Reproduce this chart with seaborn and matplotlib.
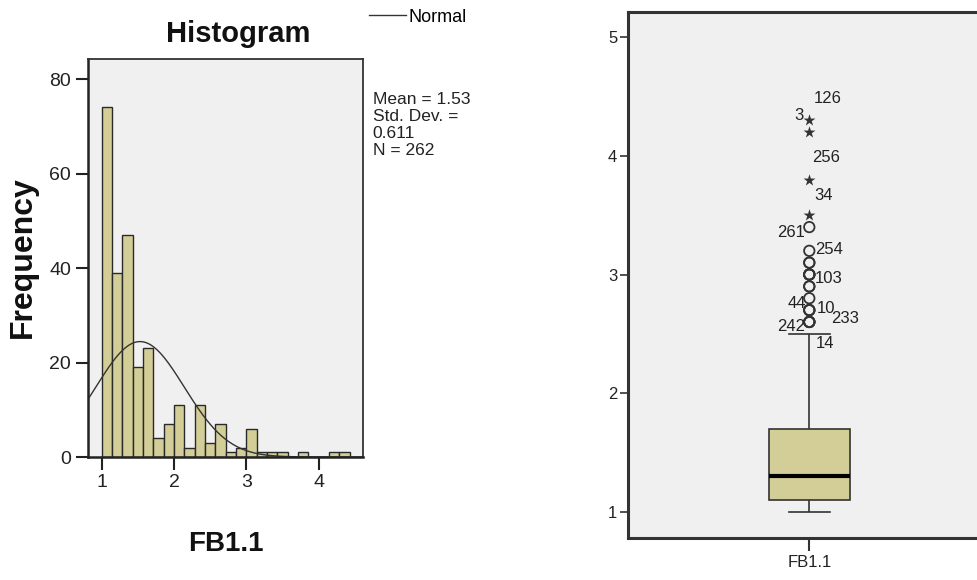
import numpy as np
import pandas as pd
import seaborn as sns
import matplotlib.pyplot as plt

# FB1.1 - observerade värden och antal fall per värde (N = 262)
fb_values = [1.0, 1.1, 1.2, 1.3, 1.4, 1.5, 1.6, 1.7, 1.8, 1.9, 2.0, 2.1, 2.2, 2.3,
             2.4, 2.5, 2.6, 2.7, 2.8, 2.9, 3.0, 3.1, 3.2, 3.4, 3.5, 3.8, 4.2, 4.3]
fb_counts = [31, 43, 39, 28, 19, 19, 12, 11, 4, 7, 6, 5, 2, 6,
             5, 3, 4, 3, 1, 2, 4, 2, 1, 1, 1, 1, 1, 1]

# statistik som SPSS skriver ut bredvid histogrammet
mean_fb = 1.53
sd_fb = 0.611

# fallnummer för extremvärden i boxplotten
case_ids = [126, 3, 256, 34, 261, 254, 103, 44, 10, 233, 242, 14]
case_vals = [4.3, 4.3, 4.2, 3.8, 3.4, 3.2, 3.0, 2.8, 2.7, 2.6, 2.6, 2.6]
# etikettplacering (px) relativt punkten: dx, dy, justering
label_dx = [4, -6, 3, 5, -4, 6, 5, -3, 7, 22, -4, 6]
label_dy = [22, 5, -25, -16, -5, 1, -4, -5, 2, 3, -5, -22]
label_ha = ['left', 'right', 'left', 'left', 'right', 'left', 'left', 'right',
            'left', 'left', 'right', 'left']

TAN = '#D3CE97'
DARK = '#333333'
BG = '#F0F0F0'

df = pd.DataFrame({'var': 'FB1.1', 'val': np.repeat(fb_values, fb_counts)})
n_cases = len(df)

fig = plt.figure(figsize=(9.77, 5.8), dpi=100)

# ---------- histogram ----------
ax1 = fig.add_axes([87.7 / 977, 1 - 457 / 580, (363.3 - 87.7) / 977, (457 - 59.3) / 580])
ax1.set_facecolor(BG)

bin_w = 1 / 7
edges = 1 + np.arange(25) / 7
sns.histplot(data=df, x='val', bins=edges, color=TAN, edgecolor='#2a2a2a',
             linewidth=1.0, alpha=1, ax=ax1)

x_lo, x_hi = 0.806, 4.618
xs = np.linspace(x_lo, x_hi, 300)
ys = n_cases * bin_w * np.exp(-0.5 * ((xs - mean_fb) / sd_fb) ** 2) / (sd_fb * np.sqrt(2 * np.pi))
sns.lineplot(x=xs, y=ys, color=DARK, linewidth=1.0, label='Normal', ax=ax1)
handles, labels = ax1.get_legend_handles_labels()
ax1.get_legend().remove()

ax1.set_xlim(x_lo, x_hi)
ax1.set_ylim(0, 84.2)
ax1.set_xticks([1, 2, 3, 4])
ax1.set_yticks([0, 20, 40, 60, 80])
ax1.set_xlabel('')
ax1.set_ylabel('')
ax1.tick_params(direction='out', length=9, width=1.5, color='#222222',
                labelsize=14, labelcolor='#222222', pad=3)
for lab in ax1.get_xticklabels() + ax1.get_yticklabels():
    lab.set_family('Liberation Sans')
for side in ['left', 'bottom']:
    ax1.spines[side].set_linewidth(1.8)
    ax1.spines[side].set_color('#222222')
for side in ['top', 'right']:
    ax1.spines[side].set_linewidth(1.3)
    ax1.spines[side].set_color(DARK)

fig.text(238 / 977, 1 - 33.5 / 580, 'Histogram', ha='center', va='center',
         fontsize=21, fontweight='bold', family='Liberation Sans', color='#111111')
fig.text(22.5 / 977, 1 - 257 / 580, 'Frequency', ha='center', va='center', rotation=90,
         fontsize=23, fontweight='bold', family='Liberation Sans', color='#111111')
fig.text(226 / 977, 1 - 544 / 580, 'FB1.1', ha='center', va='center',
         fontsize=20, fontweight='bold', family='Liberation Sans', color='#111111')

fig.legend(handles, labels, loc='center left', bbox_to_anchor=(369 / 977, 1 - 17 / 580),
           frameon=False, borderpad=0, borderaxespad=0, handlelength=2.05,
           handletextpad=0.15, prop={'family': 'Liberation Sans', 'size': 13})

stats_txt = f'Mean = {mean_fb:.2f}\nStd. Dev. =\n{sd_fb:.3f}\nN = {n_cases}'
fig.text(372.7 / 977, 1 - 92 / 580, stats_txt, ha='left', va='top', fontsize=12.5,
         linespacing=1.18, family='Liberation Sans', color='#222222')

# ---------- boxplot ----------
ax2 = fig.add_axes([628.3 / 977, 1 - 538.3 / 580, 362 / 977, (538.3 - 11.7) / 580])
ax2.set_facecolor(BG)

sns.boxplot(data=df, x='var', y='val', whis=1.45, showfliers=False, width=0.45,
            color=TAN, saturation=1, linecolor=DARK, linewidth=1.2,
            medianprops={'color': 'black', 'linewidth': 3}, ax=ax2)

q1, q3 = np.percentile(df['val'], [25, 75])
iqr = q3 - q1
lim_out = q3 + 1.45 * iqr
lim_ext = q3 + 2.95 * iqr
mild = df[(df['val'] > lim_out) & (df['val'] <= lim_ext)]
extreme = df[df['val'] > lim_ext]

sns.stripplot(data=mild, x='var', y='val', jitter=False, marker='o', size=7.5,
              color=DARK, edgecolor=DARK, linewidth=1.3, ax=ax2)
ax2.collections[-1].set_facecolor('none')
sns.stripplot(data=extreme, x='var', y='val', jitter=False, marker='*', size=9,
              color=DARK, linewidth=0, ax=ax2)

box_font = 'Liberation Sans'
for cid, val, dx, dy, ha in zip(case_ids, case_vals, label_dx, label_dy, label_ha):
    ax2.annotate(str(cid), xy=(0, val), xytext=(dx * 0.72, dy * 0.72),
                 textcoords='offset points', ha=ha, va='center', fontsize=12,
                 family=box_font, color='#222222')

ax2.set_xlim(-1, 1)
ax2.set_ylim(0.776, 5.216)
ax2.set_yticks([1, 2, 3, 4, 5])
ax2.set_xlabel('')
ax2.set_ylabel('')
ax2.tick_params(axis='y', direction='out', length=6, width=1.2, color=DARK,
                labelsize=12, labelcolor='#222222', pad=2)
ax2.tick_params(axis='x', direction='out', length=9, width=1.5, color=DARK,
                labelsize=12, labelcolor='#222222', pad=3)
for lab in ax2.get_xticklabels() + ax2.get_yticklabels():
    lab.set_family(box_font)
for side in ['left', 'bottom', 'top', 'right']:
    ax2.spines[side].set_linewidth(2.2)
    ax2.spines[side].set_color(DARK)

fig.savefig('out.png', dpi=100, facecolor='white')
